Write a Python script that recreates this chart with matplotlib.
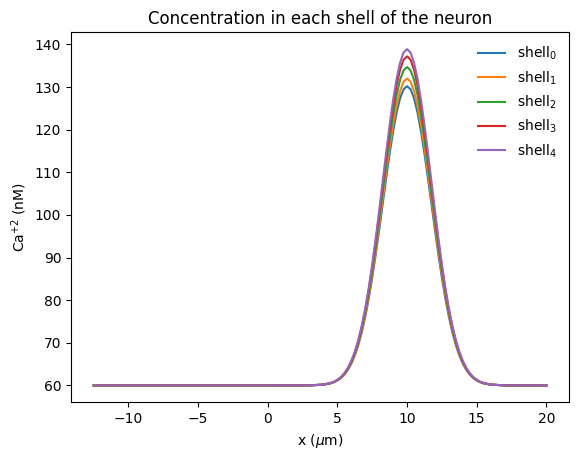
import matplotlib
matplotlib.use("Agg")
import matplotlib.pyplot as plt

x = [-12.5, -5, 0, 3, 4, 4.5, 4.75, 5, 5.25, 5.5, 5.75, 6, 6.25, 6.5, 6.75, 7, 7.25, 7.5, 7.75,
     8, 8.25, 8.5, 8.75, 9, 9.25, 9.5, 9.75, 10, 10.25, 10.5, 10.75, 11, 11.25, 11.5, 11.75,
     12, 12.25, 12.5, 12.75, 13, 13.25, 13.5, 13.75, 14, 14.25, 14.5, 14.75, 15, 15.25, 15.5,
     16, 17, 20]

shell0 = [60.0, 60.0, 60.0,
          60.02, 60.20, 60.50, 60.78, 61.19, 61.76, 62.57, 63.68, 65.15, 67.07, 69.50, 72.51, 76.15,
          80.42, 85.30, 90.72, 96.54, 102.58, 108.62, 114.39, 119.63, 124.04, 127.39, 129.49, 130.20,
          129.49, 127.39, 124.04, 119.63, 114.39, 108.62, 102.58, 96.54, 90.72, 85.30, 80.42, 76.15,
          72.51, 69.50, 67.07, 65.15, 63.68, 62.57, 61.76, 61.19, 60.78, 60.50, 60.20, 60.02,
          60.0]
shell1 = [60.0, 60.0, 60.0,
          60.02, 60.20, 60.52, 60.80, 61.22, 61.81, 62.64, 63.77, 65.28, 67.25, 69.74, 72.84, 76.56,
          80.95, 85.95, 91.50, 97.47, 103.67, 109.87, 115.79, 121.15, 125.68, 129.12, 131.27, 132.00,
          131.27, 129.12, 125.68, 121.15, 115.79, 109.87, 103.67, 97.47, 91.50, 85.95, 80.95, 76.56,
          72.84, 69.74, 67.25, 65.28, 63.77, 62.64, 61.81, 61.22, 60.80, 60.52, 60.20, 60.02,
          60.0]
shell2 = [60.0, 60.0, 60.0,
          60.03, 60.21, 60.54, 60.83, 61.26, 61.88, 62.74, 63.91, 65.48, 67.52, 70.11, 73.32, 77.19,
          81.73, 86.93, 92.69, 98.88, 105.31, 111.74, 117.88, 123.45, 128.15, 131.71, 133.94, 134.70,
          133.94, 131.71, 128.15, 123.45, 117.88, 111.74, 105.31, 98.88, 92.69, 86.93, 81.73, 77.19,
          73.32, 70.11, 67.52, 65.48, 63.91, 62.74, 61.88, 61.26, 60.83, 60.54, 60.21, 60.03,
          60.0]
shell3 = [60.0, 60.0, 60.0,
          60.03, 60.22, 60.55, 60.86, 61.30, 61.94, 62.83, 64.04, 65.66, 67.77, 70.45, 73.76, 77.76,
          82.46, 87.83, 93.78, 100.18, 106.82, 113.47, 119.82, 125.57, 130.43, 134.11, 136.42, 137.20,
          136.42, 134.11, 130.43, 125.57, 119.82, 113.47, 106.82, 100.18, 93.78, 87.83, 82.46, 77.76,
          73.76, 70.45, 67.77, 65.66, 64.04, 62.83, 61.94, 61.30, 60.86, 60.55, 60.22, 60.03,
          60.0]
shell4 = [60.0, 60.0, 60.0,
          60.03, 60.22, 60.57, 60.88, 61.33, 61.98, 62.89, 64.13, 65.79, 67.94, 70.68, 74.07, 78.15,
          82.95, 88.44, 94.52, 101.06, 107.86, 114.64, 121.13, 127.02, 131.98, 135.74, 138.10, 138.90,
          138.10, 135.74, 131.98, 127.02, 121.13, 114.64, 107.86, 101.06, 94.52, 88.44, 82.95, 78.15,
          74.07, 70.68, 67.94, 65.79, 64.13, 62.89, 61.98, 61.33, 60.88, 60.57, 60.22, 60.03,
          60.0]

series = [shell0, shell1, shell2, shell3, shell4]
labels = ["shell$_{%d}$" % i for i in range(5)]

fig = plt.figure(figsize=(5.77, 4.59), dpi=100)
ax = fig.add_axes([0.1231, 0.1235, 0.863, 0.8061])
for s, lab in zip(series, labels):
    ax.plot(x, s, label=lab)
ax.set_title("Concentration in each shell of the neuron")
ax.set_xlabel(r"x ($\mu$m)")
ax.set_ylabel(r"Ca$^{+2}$ (nM)")
ax.legend(frameon=False, loc="upper right")
fig.savefig("out.png", dpi=100)
